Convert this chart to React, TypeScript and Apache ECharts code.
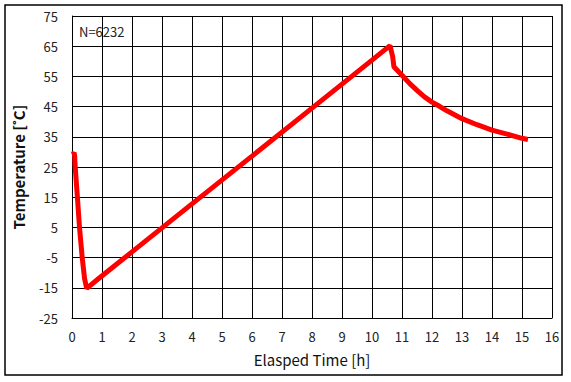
import React, { useEffect, useRef } from "react";
import * as echarts from "echarts";

const timeHours: number[] = [
  0.03, 0.07, 0.09, 0.1, 0.18, 0.25, 0.34, 0.42, 0.49,
  0.88, 2.0, 4.0, 6.0, 8.0, 10.0, 10.6,
  10.69, 10.73, 10.88, 11.0, 11.26, 11.51, 11.75, 12.0, 12.25, 12.5, 13.0, 13.5, 14.0, 14.5, 15.0, 15.2,
];
const temperature: number[] = [
  29.2, 29.8, 28.5, 26.0, 15.0, 5.0, -5.0, -12.0, -15.2,
  -12.0, -3.1, 12.8, 28.6, 44.5, 60.4, 65.2,
  61.5, 58.2, 56.6, 55.4, 52.6, 50.3, 48.2, 46.5, 45.1, 43.6, 41.0, 39.0, 37.2, 35.9, 34.5, 34.1,
];
const yTicks: number[] = [-25, -15, -5, 5, 15, 25, 35, 45, 55, 65, 75];
const xTitle = "Elasped Time [h]";
const yTitle = "Temperature [˚C]";
const annotation = "N=6232";

const FONT = "'Noto Sans CJK KR', 'Noto Sans', sans-serif";

export default function App() {
  const ref = useRef<HTMLDivElement>(null);
  useEffect(() => {
    if (!ref.current) return;
    const chart = echarts.init(ref.current, undefined, { renderer: "svg" });
    const data = timeHours.map((t, i) => [t, temperature[i]]);
    chart.setOption({
      animation: false,
      backgroundColor: "#ffffff",
      textStyle: { fontFamily: FONT },
      grid: { left: 72, top: 16, right: 19, bottom: 64, show: false },
      graphic: [
        {
          type: "rect",
          shape: { x: 5, y: 5, width: 557, height: 370 },
          style: { fill: "none", stroke: "#000", lineWidth: 1.5 },
          silent: true,
        },
        {
          type: "text",
          x: 79,
          y: 25,
          style: { text: annotation, fill: "#222", font: `13px ${FONT}` },
          silent: true,
        },
      ],
      xAxis: {
        type: "value",
        min: 0,
        max: 16,
        interval: 1,
        name: xTitle,
        nameLocation: "middle",
        nameGap: 34,
        nameTextStyle: { fontSize: 15, color: "#111", fontFamily: FONT },
        axisLine: { show: true, onZero: false, lineStyle: { color: "#000", width: 1 } },
        axisTick: { show: false },
        axisLabel: { margin: 12, fontSize: 13, color: "#222", fontFamily: FONT },
        splitLine: { show: true, lineStyle: { color: "#000", width: 1 } },
      },
      yAxis: {
        type: "value",
        min: -25,
        max: 75,
        name: yTitle,
        nameLocation: "middle",
        nameGap: 46,
        nameTextStyle: { fontSize: 15, fontWeight: "bold", color: "#111", fontFamily: FONT },
        axisLine: { show: true, onZero: false, lineStyle: { color: "#000", width: 1 } },
        axisTick: { show: false, customValues: yTicks },
        axisLabel: { margin: 14, fontSize: 13, color: "#222", fontFamily: FONT, customValues: yTicks },
        splitLine: { show: false },
      },
      series: [
        {
          type: "line",
          data,
          showSymbol: false,
          z: 3,
          lineStyle: { color: "#ff0000", width: 5 },
          itemStyle: { color: "#ff0000" },
          markLine: {
            silent: true,
            symbol: "none",
            animation: false,
            label: { show: false },
            lineStyle: { color: "#000", width: 1, type: "solid" },
            emphasis: { disabled: true },
            z: 1,
            data: yTicks.map((v) => ({ yAxis: v })),
          },
        },
      ],
    });
    return () => chart.dispose();
  }, []);
  return <div ref={ref} style={{ width: 571, height: 382, position: "absolute", left: 0, top: 0 }} />;
}
